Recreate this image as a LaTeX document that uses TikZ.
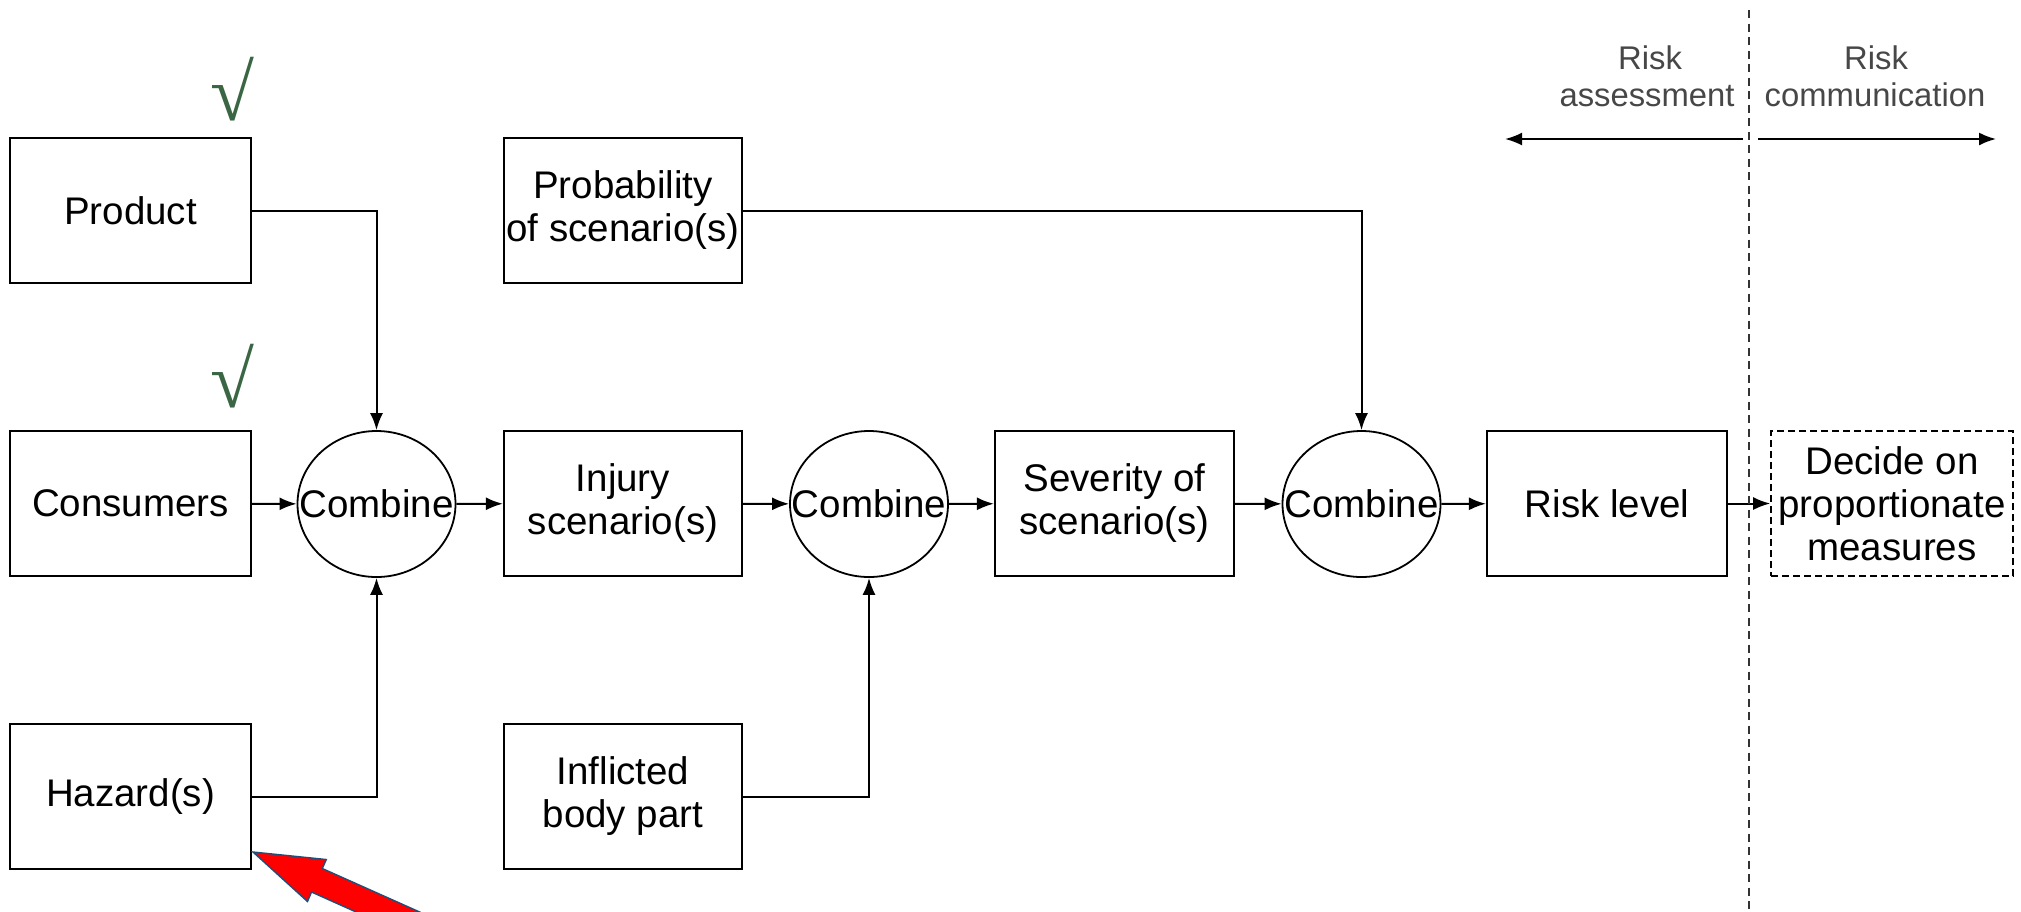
\documentclass[tikz,border=0pt]{standalone}
\usepackage{fontspec}
\setmainfont{Liberation Sans}
\newfontfamily\tickfont{Liberation Serif}
\usetikzlibrary{arrows.meta,shapes.geometric}
\definecolor{tickgreen}{RGB}{58,102,68}
\definecolor{alertred}{RGB}{255,0,0}
\definecolor{alertedge}{RGB}{31,78,121}
\begin{document}
\begin{tikzpicture}[x=0.5pt,y=-0.5pt,
  every node/.style={font=\fontsize{19.25pt}{21.5pt}\selectfont},
  blk/.style={draw, line width=1.1pt, rectangle, minimum height=72.5pt, inner sep=0pt, align=center},
  comb/.style={draw, line width=0.9pt, ellipse, minimum width=79pt, minimum height=73pt, inner sep=0pt, label={center:Combine}},
  link/.style={line width=1pt, -{Latex[length=8.5pt,width=6.5pt]}},
  toplab/.style={font=\fontsize{16.4pt}{18pt}\selectfont, text=black!72, anchor=base, inner sep=0pt},
  tick/.style={font=\tickfont\fontsize{40pt}{40pt}\selectfont, text=tickgreen, inner sep=0pt}
]
\useasboundingbox (0,0) rectangle (2021,911);

% input boxes
\node[blk, minimum width=120.5pt] (prod) at (130.5,210.5) {Product};
\node[blk, minimum width=120.5pt] (cons) at (130.5,503.5) {Consumers};
\node[blk, minimum width=120.5pt] (haz)  at (130.5,796.5) {Hazard(s)};
\node[blk, minimum width=119pt] (prob) at (623,210.5) {Probability\\of scenario(s)};
\node[blk, minimum width=119pt] (inj)  at (623,503.5) {Injury\\scenario(s)};
\node[blk, minimum width=119pt] (body) at (623,796.5) {Inflicted\\body part};
\node[blk, minimum width=119.5pt] (sev) at (1114.5,503.5) {Severity of\\scenario(s)};
\node[blk, minimum width=120pt] (risk) at (1607,503.5) {Risk level};
\node[blk, minimum width=121pt, line width=0.8pt, dash pattern=on 3.5pt off 2pt] (decide) at (1892,503.5) {Decide on\\proportionate\\measures};

% combination steps
\node[comb] (c1) at (376.5,504) {};
\node[comb] (c2) at (869,504) {};
\node[comb] (c3) at (1361.5,504) {};

% flow
\draw[link] (prod.east) -| (c1.north);
\draw[link] (haz.east) -| (c1.south);
\draw[link] (cons) -- (c1);
\draw[link] (c1) -- (inj);
\draw[link] (inj) -- (c2);
\draw[link] (body.east) -| (c2.south);
\draw[link] (c2) -- (sev);
\draw[link] (sev) -- (c3);
\draw[link] (prob.east) -| (c3.north);
\draw[link] (c3) -- (risk);
\draw[link] (risk) -- (decide);

% assessment / communication divider
\coordinate (divtop) at (1749,10);
\coordinate (divbot) at (1749,911);
\draw[line width=1pt, black!80, dash pattern=on 4pt off 2.75pt] (divtop) -- (divbot);
\coordinate (la) at (1743,139);
\coordinate (lb) at (1505,139);
\coordinate (ra) at (1758,139);
\coordinate (rb) at (1996,139);
\draw[link] (la) -- (lb);
\draw[link] (ra) -- (rb);
\node[toplab] (ass1) at (1650,69) {Risk};
\node[toplab] (ass2) at (1647,106) {assessment};
\node[toplab] (com1) at (1876,69) {Risk};
\node[toplab] (com2) at (1875,106) {communication};

% ticks
\node[tick] (tick1) at (232,89) {√};
\node[tick] (tick2) at (232,376) {√};

% pointer arrow
\begin{scope}
\clip (0,0) rectangle (2021,911);
\filldraw[fill=alertred, draw=alertedge, line width=0.7pt, line join=miter]
  (253,852) -- (307.5,901.5) -- (311.5,892) -- (476.7,966) -- (486.8,942)
  -- (322.3,868.5) -- (326.3,859.5) -- cycle;
\end{scope}
\end{tikzpicture}
\end{document}
